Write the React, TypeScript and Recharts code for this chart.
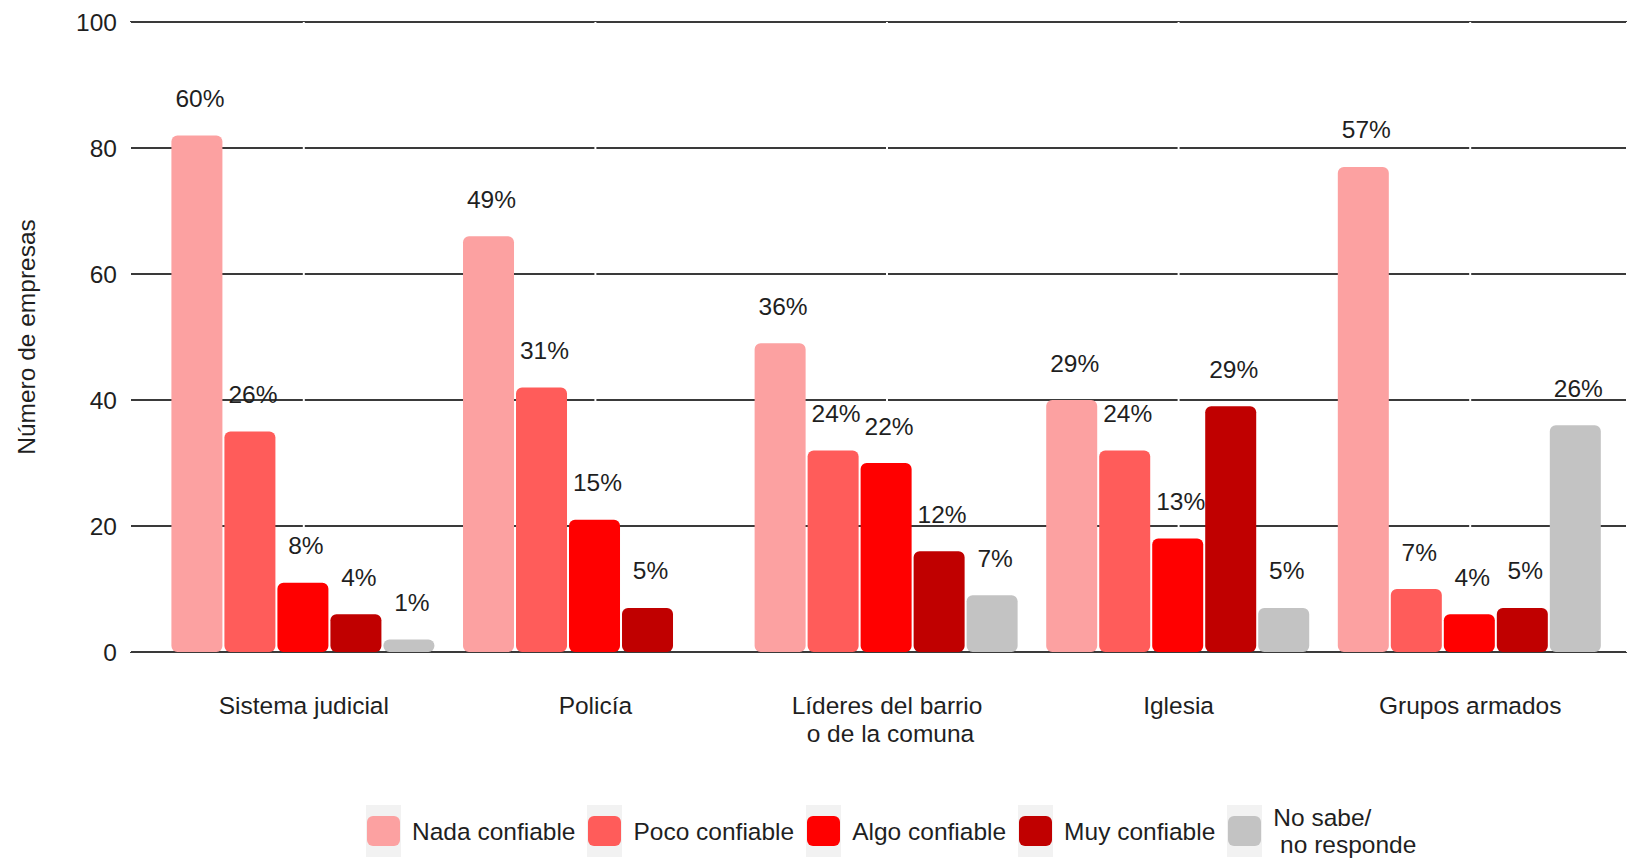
import { BarChart, Bar, XAxis, YAxis, CartesianGrid, Legend, LabelList, Label } from 'recharts';

const categories = ['Sistema judicial', 'Policía', 'Líderes del barrio\n o de la comuna', 'Iglesia', 'Grupos armados'];

// número de empresas por nivel de confianza
const nada = [82, 66, 49, 40, 77];
const poco = [35, 42, 32, 32, 10];
const algo = [11, 21, 30, 18, 6];
const muy = [6, 7, 16, 39, 7];
const noSabe = [2, null, 9, 7, 36];

// etiquetas de porcentaje sobre cada barra
const nadaPct = [60, 49, 36, 29, 57];
const pocoPct = [26, 31, 24, 24, 7];
const algoPct = [8, 15, 22, 13, 4];
const muyPct = [4, 5, 12, 29, 5];
const noSabePct = [1, null, 7, 5, 26];

const yTicks = [0, 20, 40, 60, 80, 100];

const series = [
  { key: 'nada', name: 'Nada confiable', color: '#FCA1A1' },
  { key: 'poco', name: 'Poco confiable', color: '#FF5C5A' },
  { key: 'algo', name: 'Algo confiable', color: '#FF0000' },
  { key: 'muy', name: 'Muy confiable', color: '#C00000' },
  { key: 'ns', name: 'No sabe/\n no responde', color: '#C3C3C3' },
];

const data = categories.map((name, i) => ({
  name,
  nada: nada[i],
  poco: poco[i],
  algo: algo[i],
  muy: muy[i],
  ns: noSabe[i],
  nadaPct: nadaPct[i],
  pocoPct: pocoPct[i],
  algoPct: algoPct[i],
  muyPct: muyPct[i],
  nsPct: noSabePct[i],
}));

const FONT = '"Liberation Sans", Arial, sans-serif';
const TEXT = '#1f1f1f';
const FS = 24.5;

function PctLabel(props: any) {
  const { x, y, width, value } = props;
  if (value === null || value === undefined) return null;
  return (
    <text
      x={x + width / 2 + 3}
      y={y - 37}
      textAnchor="middle"
      dominantBaseline="central"
      fontSize={FS}
      fontFamily={FONT}
      fill={TEXT}
    >
      {`${value}%`}
    </text>
  );
}

function CategoryTick(props: any) {
  const { x, y, payload } = props;
  const lines = String(payload.value).split('\n');
  return (
    <text x={x} y={y + 62} textAnchor="middle" fontSize={FS} fontFamily={FONT} fill={TEXT} style={{ whiteSpace: 'pre' }}>
      {lines.map((l, i) => (
        <tspan key={i} x={x} dy={i === 0 ? 0 : 28}>
          {l}
        </tspan>
      ))}
    </text>
  );
}

function YTitle(props: any) {
  const { viewBox } = props;
  const cy = viewBox.y + viewBox.height / 2;
  return (
    <text
      x={26}
      y={cy}
      textAnchor="middle"
      dominantBaseline="central"
      fontSize={FS}
      fontFamily={FONT}
      fill={TEXT}
      transform={`rotate(-90, 26, ${cy})`}
    >
      Número de empresas
    </text>
  );
}

function LegendContent() {
  return (
    <div style={{ display: 'flex', alignItems: 'center', paddingLeft: 366, height: 52, fontFamily: FONT }}>
      {series.map((s) => (
        <div key={s.key} style={{ display: 'flex', alignItems: 'center' }}>
          <div
            style={{
              width: 35,
              height: 52,
              background: '#F2F2F2',
              display: 'flex',
              alignItems: 'center',
              justifyContent: 'center',
            }}
          >
            <div style={{ width: 33, height: 30, background: s.color, borderRadius: 6 }} />
          </div>
          <div
            style={{
              marginLeft: 11,
              marginRight: 12,
              fontSize: FS,
              lineHeight: '27px',
              color: TEXT,
              whiteSpace: 'pre',
            }}
          >
            {s.name}
          </div>
        </div>
      ))}
    </div>
  );
}

export default function App() {
  return (
    <div style={{ position: 'fixed', left: 0, top: 0, width: 1627, height: 859, background: '#fff', overflow: 'hidden' }}>
      <BarChart
        width={1627}
        height={859}
        data={data}
        margin={{ top: 22, right: 0, left: 0, bottom: 107 }}
        barCategoryGap="4.6%"
        barGap={2}
      >
        <CartesianGrid horizontal={true} vertical={false} stroke="#3a3a3a" strokeWidth={1.8} />
        <CartesianGrid horizontal={false} vertical={true} stroke="#ffffff" strokeWidth={2} />
        <XAxis
          dataKey="name"
          axisLine={false}
          tickLine={false}
          tickSize={0}
          tickMargin={0}
          height={100}
          padding={{ left: 28, right: 11 }}
          interval={0}
          tick={<CategoryTick />}
        />
        <YAxis
          domain={[0, 100]}
          ticks={yTicks}
          axisLine={false}
          tickLine={false}
          tickSize={0}
          tickMargin={13}
          width={130}
          tick={{ fontSize: FS, fontFamily: FONT, fill: TEXT }}
        >
          <Label content={<YTitle />} />
        </YAxis>
        <Legend
          layout="horizontal"
          verticalAlign="middle"
          align="center"
          content={<LegendContent />}
          wrapperStyle={{ left: 0, top: 805, width: 1627, height: 52 }}
        />
        {series.map((s) => (
          <Bar key={s.key} dataKey={s.key} name={s.name} fill={s.color} radius={[6, 6, 6, 6]} isAnimationActive={false}>
            <LabelList dataKey={`${s.key}Pct`} content={<PctLabel />} />
          </Bar>
        ))}
      </BarChart>
    </div>
  );
}
